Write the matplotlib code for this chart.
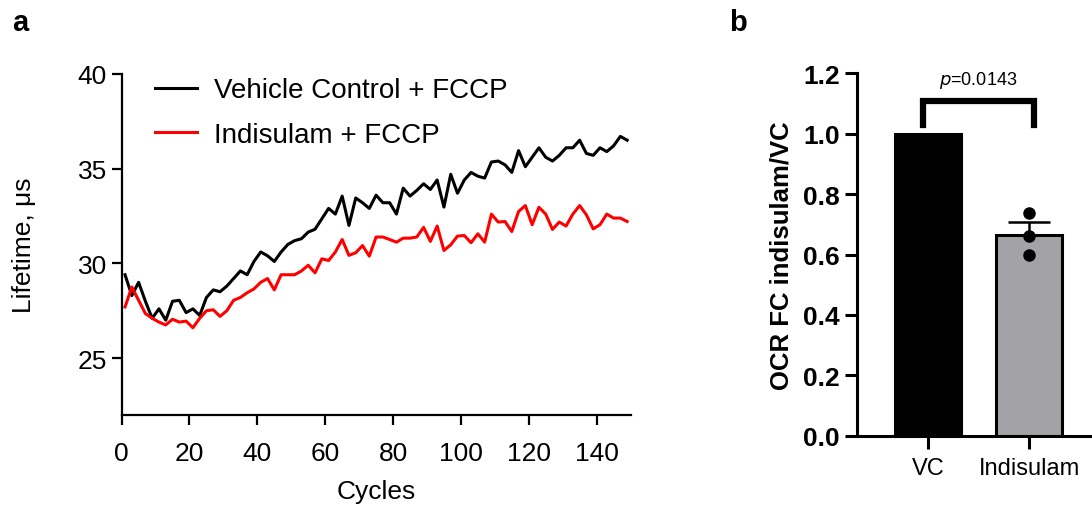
import numpy as np
import matplotlib.pyplot as plt

plt.rcParams['font.family'] = ['Liberation Sans', 'DejaVu Sans']

# panel a: lifetime traces, one point every 2 cycles
cycles = np.arange(1, 150, 2)
vehicle = [29.4, 28.3, 29.0, 28.0, 27.1, 27.6, 27.0, 28.0, 28.05, 27.4,
           27.6, 27.25, 28.2, 28.6, 28.5, 28.8, 29.2, 29.6, 29.4, 30.1,
           30.6, 30.4, 30.1, 30.6, 31.0, 31.2, 31.3, 31.65, 31.8, 32.35,
           32.9, 32.6, 33.55, 32.0, 33.45, 33.2, 32.9, 33.6, 33.2, 33.2,
           32.6, 33.97, 33.55, 33.85, 34.2, 33.9, 34.4, 32.97, 34.7, 33.7,
           34.4, 34.8, 34.6, 34.5, 35.35, 35.4, 35.2, 34.8, 35.95, 35.1,
           35.6, 36.1, 35.6, 35.4, 35.7, 36.1, 36.1, 36.5, 35.8, 35.7,
           36.1, 35.9, 36.2, 36.7, 36.5]
indisulam = [27.7, 28.75, 28.05, 27.35, 27.1, 26.9, 26.75, 27.05, 26.9, 26.95,
             26.6, 27.1, 27.5, 27.55, 27.2, 27.5, 28.05, 28.2, 28.45, 28.65,
             29.0, 29.2, 28.6, 29.4, 29.4, 29.4, 29.6, 29.9, 29.5, 30.24,
             30.15, 30.6, 31.26, 30.42, 30.56, 30.94, 30.38, 31.39, 31.39, 31.26,
             31.12, 31.33, 31.33, 31.39, 31.9, 31.16, 31.97, 30.68, 30.98, 31.44,
             31.47, 31.09, 31.56, 31.12, 32.6, 32.18, 32.21, 31.68, 32.74, 33.05,
             32.04, 32.96, 32.6, 31.79, 32.18, 31.97, 32.6, 33.05, 32.56, 31.82,
             32.04, 32.6, 32.39, 32.39, 32.21]

# panel b: OCR fold change
groups = ['VC', 'Indisulam']
ocr_mean = [1.0, 0.665]
ocr_sem = [0.0, 0.042]
ocr_points = [0.737, 0.662, 0.598]
p_label = '0.0143'

fig = plt.figure(figsize=(10.92, 5.06), dpi=100)

# ---- panel a
ax = fig.add_axes([0.1114, 0.178, 0.466, 0.674])
ax.plot(cycles, vehicle, color='black', lw=2.2, label='Vehicle Control + FCCP')
ax.plot(cycles, indisulam, color='#ff0000', lw=2.2, label='Indisulam + FCCP')
ax.set_xlim(0, 150)
ax.set_ylim(22, 40)
ax.set_xticks(np.arange(0, 141, 20))
ax.set_yticks([25, 30, 35, 40])
for s in ['top', 'right']:
    ax.spines[s].set_visible(False)
for s in ['left', 'bottom']:
    ax.spines[s].set_linewidth(1.6)
ax.tick_params(width=1.6, length=7, labelsize=19)
ax.tick_params(axis='x', pad=12)
ax.set_xlabel('Cycles', fontsize=19, labelpad=10)
ax.set_ylabel('Lifetime, \u03bcs', fontsize=19, labelpad=30)
ax.legend(loc='upper left', bbox_to_anchor=(0.066, 0.99), frameon=False,
          fontsize=20, handlelength=1.5, handletextpad=0.6, labelspacing=0.68,
          borderpad=0, borderaxespad=0)
fig.text(0.011, 0.955, 'a', fontsize=21, fontweight='bold', va='center')

# ---- panel b
bx = fig.add_axes([0.785, 0.137, 0.213, 0.716])
xpos = np.arange(len(groups))
bx.bar(xpos, ocr_mean, width=0.65, color=['black', '#a3a3a7'],
       edgecolor='black', linewidth=2.2, zorder=2)
bx.errorbar(xpos[1], ocr_mean[1], yerr=[[0], [ocr_sem[1]]], color='black',
            capsize=15, capthick=1.8, elinewidth=1.8, zorder=3)
bx.plot([xpos[1]] * len(ocr_points), ocr_points, 'o', color='black',
        ms=8, zorder=4)
bx.set_xlim(-0.7, 1.6)
bx.set_ylim(0, 1.2)
bx.set_yticks(np.arange(0, 1.21, 0.2))
bx.set_yticklabels([f'{v:.1f}' for v in np.arange(0, 1.21, 0.2)],
                   fontweight='bold')
bx.set_xticks(xpos)
bx.set_xticklabels(groups, fontsize=17)
for s in ['top', 'right']:
    bx.spines[s].set_visible(False)
for s in ['left', 'bottom']:
    bx.spines[s].set_linewidth(2.2)
bx.tick_params(axis='y', width=2.2, length=9, labelsize=19)
bx.tick_params(axis='x', width=2.2, length=9, pad=6)
bx.set_ylabel('OCR FC indisulam/VC', fontsize=18.5, fontweight='bold',
              labelpad=7)

# significance bracket
bx.plot([-0.05, -0.05, 1.05, 1.05], [1.03, 1.11, 1.11, 1.03], color='black',
        lw=4.5, solid_joinstyle='miter', clip_on=False)
bx.text(0.5, 1.18, '$p$=' + p_label, ha='center', va='center', fontsize=13)
fig.text(0.668, 0.955, 'b', fontsize=21, fontweight='bold', va='center')

fig.savefig('out.png', dpi=100)
